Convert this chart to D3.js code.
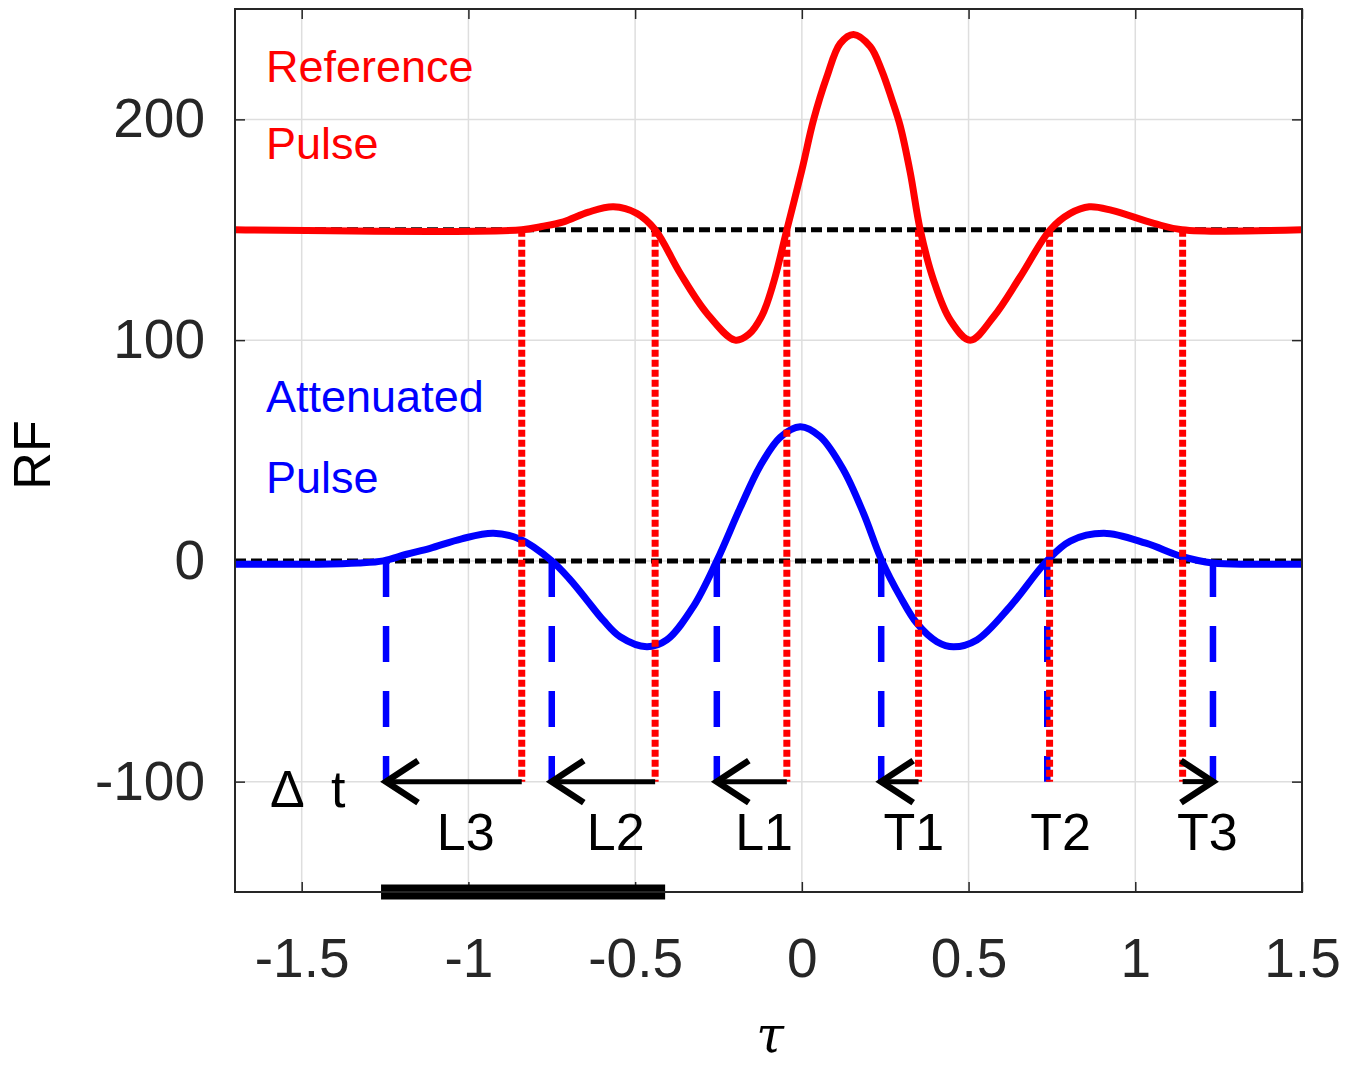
<html>
<head>
<meta charset="utf-8">
<script src="https://d3js.org/d3.v7.min.js"></script>
<style>
  body { margin: 0; background: #fff; }
  svg { font-family: "Liberation Sans", Arial, sans-serif; }
  .tick text { fill: #262626; font-size: 55px; }
  .tick line { stroke: #262626; stroke-width: 1.5; }
  .domain { display: none; }
</style>
</head>
<body>
<script>
// axis ticks
var xTicks = [-1.5, -1, -0.5, 0, 0.5, 1, 1.5];
var yTicks = [-100, 0, 100, 200];

// reference pulse (red)
var refX = [-1.70, -0.84, -0.78, -0.715, -0.64, -0.565, -0.495, -0.44, -0.365, -0.285, -0.20, -0.16, -0.12, -0.085, -0.045,
            0.0, 0.035, 0.075, 0.115, 0.155, 0.205, 0.24, 0.27, 0.295, 0.325, 0.355, 0.395, 0.445, 0.505, 0.575, 0.655,
            0.745, 0.805, 0.862, 0.93, 1.056, 1.14, 1.50];
var refY = [150, 150, 151.5, 153.6, 158, 160.4, 157.4, 150, 130.3, 112.2, 100, 102.5, 111, 126, 150,
            177, 199.7, 219.3, 234.4, 238.5, 233, 222, 209, 197, 176, 150, 127.2, 109.1, 100, 110.6, 128.7,
            150, 157.4, 160.4, 158.8, 152.9, 150, 150];

// attenuated pulse (blue)
var attX = [-1.70, -1.45, -1.33, -1.255, -1.185, -1.115, -1.02, -0.925, -0.845, -0.75, -0.695, -0.645, -0.595, -0.545, -0.465,
            -0.405, -0.325, -0.255, -0.185, -0.125, -0.065, -0.005, 0.055, 0.125, 0.185, 0.24, 0.295, 0.345, 0.405,
            0.455, 0.525, 0.625, 0.735, 0.805, 0.906, 1.032, 1.139, 1.233, 1.35, 1.50];
var attY = [-1.5, -1.5, -1, 0, 3, 5.7, 10, 12.5, 9.8, 0, -8.5, -17.7, -27, -34.4, -38.9,
            -35.8, -20.6, 0, 24, 43, 56, 60.8, 56.3, 41.2, 21.5, 0, -16.2, -28.3, -36.6,
            -38.9, -35.8, -20.6, 0, 9, 12.5, 8, 2, -1, -1.5, -1.5];

// crossing times and their labels
var refCross = [-0.84, -0.44, -0.045, 0.35, 0.743, 1.142];
var attCross = [-1.247, -0.75, -0.255, 0.238, 0.736, 1.233];
var crossLabels = ["L3", "L2", "L1", "T1", "T2", "T3"];
var labelX = [-1.095, -0.645, -0.2, 0.245, 0.685, 1.125];

// bar along bottom axis
var barRange = [-1.262, -0.41];

var W = 1358, H = 1066;
var pL = 235, pR = 1302, pT = 9, pB = 892;

var svg = d3.select("body").append("svg")
    .attr("width", W)
    .attr("height", H);

var x = d3.scaleLinear().domain([-1.7, 1.5]).range([pL, pR]);
var y = d3.scaleLinear().domain([-150, 250]).range([pB, pT]);

// matlab style labels, plain hyphen for minus
var fmt = function(d) { return String(d); };

svg.append("defs").append("clipPath").attr("id", "plot")
    .append("rect")
    .attr("x", pL).attr("y", pT)
    .attr("width", pR - pL).attr("height", pB - pT);

// grid
svg.append("g").selectAll("line")
    .data(xTicks)
    .enter().append("line")
    .attr("x1", function(d) { return x(d); })
    .attr("x2", function(d) { return x(d); })
    .attr("y1", pT).attr("y2", pB)
    .style("stroke", "#dedede").style("stroke-width", 1.5);

svg.append("g").selectAll("line")
    .data(yTicks)
    .enter().append("line")
    .attr("y1", function(d) { return y(d); })
    .attr("y2", function(d) { return y(d); })
    .attr("x1", pL).attr("x2", pR)
    .style("stroke", "#dedede").style("stroke-width", 1.5);

// axes
svg.append("g")
    .attr("transform", "translate(0," + pB + ")")
    .call(d3.axisBottom(x).tickValues(xTicks).tickSize(-10).tickPadding(46).tickFormat(fmt));
svg.append("g")
    .attr("transform", "translate(0," + pT + ")")
    .call(d3.axisTop(x).tickValues(xTicks).tickSize(-10).tickFormat(""));
svg.append("g")
    .attr("transform", "translate(" + pL + ",0)")
    .call(d3.axisLeft(y).tickValues(yTicks).tickSize(-10).tickPadding(30).tickFormat(fmt));
svg.append("g")
    .attr("transform", "translate(" + pR + ",0)")
    .call(d3.axisRight(y).tickValues(yTicks).tickSize(-10).tickFormat(""));

var plot = svg.append("g").attr("clip-path", "url(#plot)");

// baselines
[150, 0].forEach(function(v) {
    plot.append("line")
        .attr("x1", pL).attr("x2", pR)
        .attr("y1", y(v)).attr("y2", y(v))
        .style("stroke", "#000").style("stroke-width", 5)
        .style("stroke-dasharray", "11,5");
});

var line = d3.line()
    .x(function(d) { return x(d[0]); })
    .y(function(d) { return y(d[1]); })
    .curve(d3.curveCatmullRom.alpha(0.5));

plot.append("path")
    .datum(d3.zip(refX, refY))
    .attr("d", line)
    .style("fill", "none").style("stroke", "#ff0000").style("stroke-width", 7)
    .style("stroke-linejoin", "round");

plot.append("path")
    .datum(d3.zip(attX, attY))
    .attr("d", line)
    .style("fill", "none").style("stroke", "#0000ff").style("stroke-width", 7)
    .style("stroke-linejoin", "round");

// crossing markers
plot.selectAll(".att-v")
    .data(attCross)
    .enter().append("line")
    .attr("class", "att-v")
    .attr("x1", function(d) { return x(d); })
    .attr("x2", function(d) { return x(d); })
    .attr("y1", y(0)).attr("y2", y(-100))
    .style("stroke", "#0000ff").style("stroke-width", 6.5)
    .style("stroke-dasharray", "36,29");

plot.selectAll(".ref-v")
    .data(refCross)
    .enter().append("line")
    .attr("class", "ref-v")
    .attr("x1", function(d) { return x(d); })
    .attr("x2", function(d) { return x(d); })
    .attr("y1", y(150)).attr("y2", y(-100))
    .style("stroke", "#ff0000").style("stroke-width", 7)
    .style("stroke-dasharray", "7,3");

// arrows from reference crossing to attenuated crossing
var arrows = d3.zip(refCross, attCross).filter(function(d) { return Math.abs(d[0] - d[1]) > 0.02; });
plot.selectAll(".shaft")
    .data(arrows)
    .enter().append("line")
    .attr("class", "shaft")
    .attr("x1", function(d) { return x(d[0]); })
    .attr("x2", function(d) { return x(d[1]); })
    .attr("y1", y(-100)).attr("y2", y(-100))
    .style("stroke", "#000").style("stroke-width", 5);

plot.selectAll(".head")
    .data(arrows)
    .enter().append("path")
    .attr("class", "head")
    .attr("d", function(d) {
        var tx = x(d[1]), ty = y(-100), s = d[1] < d[0] ? 1 : -1;
        return "M" + (tx + s * 32) + "," + (ty - 21) + "L" + tx + "," + ty + "L" + (tx + s * 32) + "," + (ty + 21);
    })
    .style("fill", "none").style("stroke", "#000").style("stroke-width", 6.5)
    .style("stroke-linejoin", "miter");

// bar on the bottom axis
svg.append("line")
    .attr("x1", x(barRange[0])).attr("x2", x(barRange[1]))
    .attr("y1", pB).attr("y2", pB)
    .style("stroke", "#000").style("stroke-width", 15);

// frame
svg.append("rect")
    .attr("x", pL).attr("y", pT)
    .attr("width", pR - pL).attr("height", pB - pT)
    .style("fill", "none").style("stroke", "#262626").style("stroke-width", 2);

// labels
svg.selectAll(".cross-label")
    .data(crossLabels)
    .enter().append("text")
    .attr("class", "cross-label")
    .attr("x", function(d, i) { return x(labelX[i]); })
    .attr("y", 850)
    .style("font-size", "52px").style("fill", "#000")
    .text(function(d) { return d; });

svg.append("text").attr("x", 270).attr("y", 807)
    .style("font-size", "52px").text("\u0394");
svg.append("text").attr("x", 331).attr("y", 807)
    .style("font-size", "52px").text("t");

svg.append("text").attr("x", 266).attr("y", 82)
    .style("font-size", "45px").style("fill", "#ff0000").text("Reference");
svg.append("text").attr("x", 266).attr("y", 159)
    .style("font-size", "45px").style("fill", "#ff0000").text("Pulse");
svg.append("text").attr("x", 266).attr("y", 412)
    .style("font-size", "45px").style("fill", "#0000ff").text("Attenuated");
svg.append("text").attr("x", 266).attr("y", 493)
    .style("font-size", "45px").style("fill", "#0000ff").text("Pulse");

svg.append("text")
    .attr("transform", "translate(50,455) rotate(-90)")
    .attr("text-anchor", "middle")
    .style("font-size", "52px").style("fill", "#000")
    .text("RF");

svg.append("text")
    .attr("x", 770).attr("y", 1052)
    .attr("text-anchor", "middle")
    .style("font-family", "'DejaVu Serif', serif").style("font-style", "italic")
    .style("font-size", "50px").style("fill", "#000")
    .text("\u03c4");
</script>
</body>
</html>
